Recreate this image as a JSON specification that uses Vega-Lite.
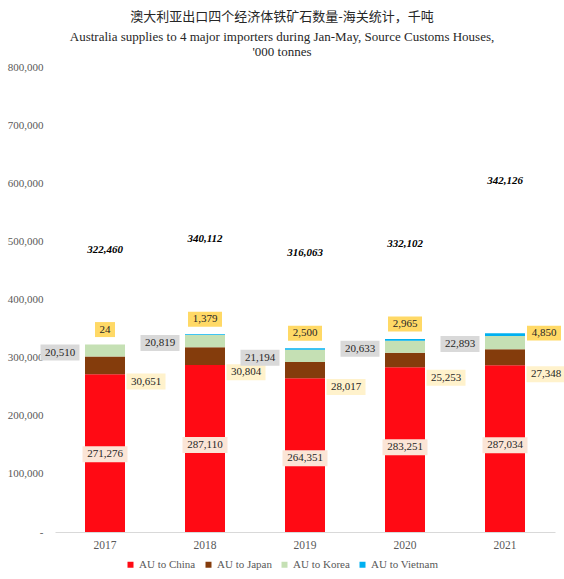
{
  "$schema": "https://vega.github.io/schema/vega-lite/v6.json",
  "description": "Australian iron ore exports to four major importers, Jan-May 2017-2021.",
  "autosize": "none",
  "width": 500,
  "height": 465,
  "padding": {"left": 55, "top": 67, "right": 9, "bottom": 47},
  "title": {
    "text": "澳大利亚出口四个经济体铁矿石数量-海关统计，千吨",
    "subtitle": ["Australia supplies to 4 major importers during Jan-May, Source Customs Houses,", "'000 tonnes"],
    "anchor": "middle",
    "dx": -23,
    "offset": 2,
    "font": "Noto Sans CJK SC",
    "fontSize": 13,
    "fontWeight": "normal",
    "color": "#262626",
    "subtitleFont": "Liberation Serif",
    "subtitleFontSize": 13,
    "subtitleColor": "#262626",
    "subtitlePadding": 7,
    "subtitleLineHeight": 15
  },
  "datasets": {
    "exports": [
      {"year": "2017", "country": "AU to China", "value": 271276},
      {"year": "2017", "country": "AU to Japan", "value": 30651},
      {"year": "2017", "country": "AU to Korea", "value": 20510},
      {"year": "2017", "country": "AU to Vietnam", "value": 24},
      {"year": "2018", "country": "AU to China", "value": 287110},
      {"year": "2018", "country": "AU to Japan", "value": 30804},
      {"year": "2018", "country": "AU to Korea", "value": 20819},
      {"year": "2018", "country": "AU to Vietnam", "value": 1379},
      {"year": "2019", "country": "AU to China", "value": 264351},
      {"year": "2019", "country": "AU to Japan", "value": 28017},
      {"year": "2019", "country": "AU to Korea", "value": 21194},
      {"year": "2019", "country": "AU to Vietnam", "value": 2500},
      {"year": "2020", "country": "AU to China", "value": 283251},
      {"year": "2020", "country": "AU to Japan", "value": 25253},
      {"year": "2020", "country": "AU to Korea", "value": 20633},
      {"year": "2020", "country": "AU to Vietnam", "value": 2965},
      {"year": "2021", "country": "AU to China", "value": 287034},
      {"year": "2021", "country": "AU to Japan", "value": 27348},
      {"year": "2021", "country": "AU to Korea", "value": 22893},
      {"year": "2021", "country": "AU to Vietnam", "value": 4850}
    ],
    "totals": [
      {"year": "2017", "total": 322460},
      {"year": "2018", "total": 340112},
      {"year": "2019", "total": 316063},
      {"year": "2020", "total": 332102},
      {"year": "2021", "total": 342126}
    ]
  },
  "data": {"name": "exports"},
  "transform": [
    {"stack": "value", "groupby": ["year"], "sort": [{"field": "country", "order": "ascending"}], "as": ["v0", "v1"]}
  ],
  "encoding": {
    "x": {
      "field": "year",
      "type": "ordinal",
      "title": null,
      "scale": {"paddingInner": 0.6, "paddingOuter": 0.3}
    }
  },
  "layer": [
    {
      "mark": {"type": "bar"},
      "encoding": {
        "y": {"field": "v0", "type": "quantitative", "title": null, "scale": {"domain": [0, 800000]}},
        "y2": {"field": "v1"},
        "color": {
          "field": "country",
          "type": "nominal",
          "title": null,
          "scale": {
            "domain": ["AU to China", "AU to Japan", "AU to Korea", "AU to Vietnam"],
            "range": ["#ff0a14", "#843c0c", "#c5e0b4", "#00b0f0"]
          }
        }
      }
    },
    {
      "transform": [{"filter": "datum.country === 'AU to China'"}],
      "mark": {"type": "point", "filled": true, "opacity": 1, "strokeWidth": 0, "fill": "#fbe5d6", "yOffset": 80,
               "shape": "M-1,-0.3556H1V0.3556H-1Z", "size": 2025},
      "encoding": {"y": {"field": "v1", "type": "quantitative", "title": null}}
    },
    {
      "transform": [{"filter": "datum.country === 'AU to China'"}],
      "mark": {"type": "text", "yOffset": 80, "font": "Liberation Serif", "fontSize": 11, "color": "#262626", "baseline": "middle"},
      "encoding": {
        "y": {"field": "v1", "type": "quantitative", "title": null},
        "text": {"field": "value", "type": "quantitative", "format": ","}
      }
    },
    {
      "transform": [{"filter": "datum.country === 'AU to Japan'"}],
      "mark": {"type": "point", "filled": true, "opacity": 1, "strokeWidth": 0, "fill": "#fff2cc", "xOffset": 41, "yOffset": 25,
               "shape": "M-1,-0.41H1V0.41H-1Z", "size": 1521},
      "encoding": {"y": {"field": "v1", "type": "quantitative", "title": null}}
    },
    {
      "transform": [{"filter": "datum.country === 'AU to Japan'"}],
      "mark": {"type": "text", "xOffset": 41, "yOffset": 25, "font": "Liberation Serif", "fontSize": 11, "color": "#262626", "baseline": "middle"},
      "encoding": {
        "y": {"field": "v1", "type": "quantitative", "title": null},
        "text": {"field": "value", "type": "quantitative", "format": ","}
      }
    },
    {
      "transform": [{"filter": "datum.country === 'AU to Korea'"}],
      "mark": {"type": "point", "filled": true, "opacity": 1, "strokeWidth": 0, "fill": "#d9d9d9", "xOffset": -45, "yOffset": 8,
               "shape": "M-1,-0.41H1V0.41H-1Z", "size": 1521},
      "encoding": {"y": {"field": "v1", "type": "quantitative", "title": null}}
    },
    {
      "transform": [{"filter": "datum.country === 'AU to Korea'"}],
      "mark": {"type": "text", "xOffset": -45, "yOffset": 8, "font": "Liberation Serif", "fontSize": 11, "color": "#262626", "baseline": "middle"},
      "encoding": {
        "y": {"field": "v1", "type": "quantitative", "title": null},
        "text": {"field": "value", "type": "quantitative", "format": ","}
      }
    },
    {
      "transform": [{"filter": "datum.country === 'AU to Vietnam' && datum.year !== '2021'"}],
      "mark": {"type": "point", "filled": true, "opacity": 1, "strokeWidth": 0, "fill": "#ffd966", "yOffset": -15},
      "encoding": {
        "y": {"field": "v1", "type": "quantitative", "title": null},
        "shape": {"condition": {"test": "datum.value < 100", "value": "M-1,-0.75H1V0.75H-1Z"}, "value": "M-1,-0.44H1V0.44H-1Z"},
        "size": {"condition": {"test": "datum.value < 100", "value": 400}, "value": 1156}
      }
    },
    {
      "transform": [{"filter": "datum.country === 'AU to Vietnam' && datum.year !== '2021'"}],
      "mark": {"type": "text", "yOffset": -15, "font": "Liberation Serif", "fontSize": 11, "color": "#262626", "baseline": "middle"},
      "encoding": {
        "y": {"field": "v1", "type": "quantitative", "title": null},
        "text": {"field": "value", "type": "quantitative", "format": ","}
      }
    },
    {
      "transform": [{"filter": "datum.country === 'AU to Vietnam' && datum.year === '2021'"}],
      "mark": {"type": "point", "filled": true, "opacity": 1, "strokeWidth": 0, "fill": "#ffd966", "xOffset": 39,
               "shape": "M-1,-0.44H1V0.44H-1Z", "size": 1156},
      "encoding": {"y": {"field": "v1", "type": "quantitative", "title": null}}
    },
    {
      "transform": [{"filter": "datum.country === 'AU to Vietnam' && datum.year === '2021'"}],
      "mark": {"type": "text", "xOffset": 39, "font": "Liberation Serif", "fontSize": 11, "color": "#262626", "baseline": "middle"},
      "encoding": {
        "y": {"field": "v1", "type": "quantitative", "title": null},
        "text": {"field": "value", "type": "quantitative", "format": ","}
      }
    },
    {
      "data": {"name": "totals"},
      "transform": [{"filter": "datum.year !== '2021'"}],
      "mark": {"type": "text", "yOffset": -95, "font": "Liberation Serif", "fontSize": 11, "fontWeight": "bold", "fontStyle": "italic", "color": "#000000", "baseline": "middle"},
      "encoding": {
        "y": {"field": "total", "type": "quantitative", "title": null},
        "text": {"field": "total", "type": "quantitative", "format": ","}
      }
    },
    {
      "data": {"name": "totals"},
      "transform": [{"filter": "datum.year === '2021'"}],
      "mark": {"type": "text", "yOffset": -152, "font": "Liberation Serif", "fontSize": 11, "fontWeight": "bold", "fontStyle": "italic", "color": "#000000", "baseline": "middle"},
      "encoding": {
        "y": {"field": "total", "type": "quantitative", "title": null},
        "text": {"field": "total", "type": "quantitative", "format": ","}
      }
    }
  ],
  "config": {
    "view": {"stroke": null},
    "background": "#ffffff",
    "axisX": {
      "labelAngle": 0,
      "ticks": false,
      "grid": false,
      "domainColor": "#d9d9d9",
      "labelFont": "Liberation Serif",
      "labelFontSize": 11.5,
      "labelColor": "#595959",
      "labelPadding": 7
    },
    "axisY": {
      "tickCount": 8,
      "labelExpr": "datum.value === 0 ? '-\u00a0\u00a0\u00a0' : format(datum.value, ',')",
      "grid": false,
      "domain": false,
      "ticks": false,
      "labelPadding": 12,
      "labelFont": "Liberation Serif",
      "labelFontSize": 11,
      "labelColor": "#595959"
    },
    "legend": {
      "orient": "none",
      "direction": "horizontal",
      "legendX": 70,
      "legendY": 492,
      "padding": 0,
      "symbolType": "square",
      "symbolSize": 36,
      "symbolStrokeWidth": 0,
      "labelOffset": 3,
      "columnPadding": 7,
      "labelFont": "Liberation Serif",
      "labelFontSize": 11,
      "labelColor": "#595959"
    }
  }
}
